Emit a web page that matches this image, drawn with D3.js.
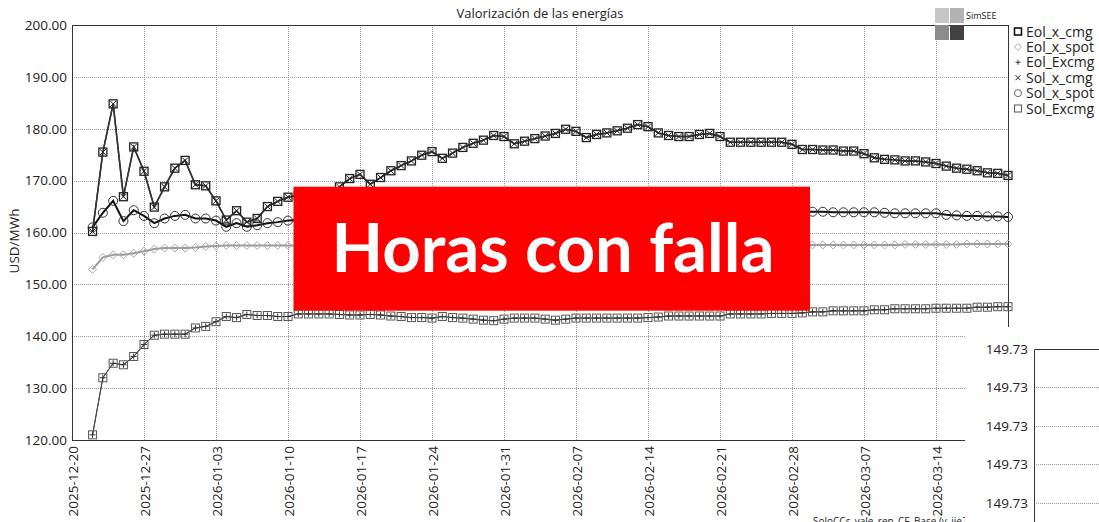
<!DOCTYPE html>
<html>
<head>
<meta charset="utf-8">
<script src="https://cdn.jsdelivr.net/npm/d3@7"></script>
<style>
  body { margin: 0; background: #fff; }
  svg { display: block; }
  text { font-family: "Open Sans", sans-serif; fill: #222; }
</style>
</head>
<body>
<div id="chart"></div>
<script>
// ---- data ----
const firstDay = '2025-12-22'; // one point per day
const xTickLabels = ['2025-12-20', '2025-12-27', '2026-01-03', '2026-01-10', '2026-01-17',
  '2026-01-24', '2026-01-31', '2026-02-07', '2026-02-14', '2026-02-21', '2026-02-28',
  '2026-03-07', '2026-03-14'];
const yTickLabels = [120, 130, 140, 150, 160, 170, 180, 190, 200];
const insetTickLabels = ['149.73', '149.73', '149.73', '149.73', '149.73'];

const seriesNames = ['Eol_x_cmg', 'Eol_x_spot', 'Eol_Excmg', 'Sol_x_cmg', 'Sol_x_spot', 'Sol_Excmg'];

const eolXCmg = [
  160.2, 175.5, 184.8, 166.9, 176.5, 171.8, 164.9, 168.8, 172.4, 173.9,
  169.2, 169.0, 166.1, 162.4, 164.2, 162.0, 162.7, 165.0, 166.0, 166.8,
  167.2, 166.9, 167.4, 167.8, 168.8, 170.4, 171.2, 169.3, 170.6, 171.9,
  172.9, 173.8, 174.9, 175.6, 174.3, 175.3, 176.4, 177.2, 177.8, 178.7,
  178.5, 177.1, 177.6, 178.1, 178.6, 179.1, 179.9, 179.5, 178.3, 178.9,
  179.2, 179.6, 180.1, 180.8, 180.4, 179.2, 178.7, 178.5, 178.5, 178.9,
  179.1, 178.5, 177.4, 177.4, 177.4, 177.4, 177.4, 177.4, 177.0, 176.0,
  176.0, 175.9, 175.9, 175.7, 175.7, 175.2, 174.4, 174.1, 174.0, 173.8,
  173.8, 173.6, 173.3, 172.8, 172.4, 172.2, 171.9, 171.5, 171.4, 171.0];
const solXCmg = eolXCmg; // both curves lie on top of each other

const solXSpot = [
  161.0, 163.8, 166.1, 162.2, 164.3, 163.2, 161.8, 162.7, 163.2, 163.4,
  162.7, 162.7, 162.3, 161.1, 161.8, 161.1, 161.4, 161.8, 162.0, 162.3,
  162.4, 162.5, 162.5, 162.6, 162.7, 162.9, 163.0, 162.9, 163.0, 163.1,
  163.2, 163.3, 163.4, 163.5, 163.4, 163.5, 163.6, 163.7, 163.8, 163.9,
  163.9, 163.8, 163.8, 163.9, 164.0, 164.0, 164.1, 164.1, 164.0, 164.1,
  164.1, 164.2, 164.2, 164.3, 164.3, 164.2, 164.2, 164.2, 164.2, 164.2,
  164.2, 164.2, 164.1, 164.1, 164.1, 164.1, 164.1, 164.1, 164.1, 164.0,
  164.0, 164.0, 163.9, 163.9, 163.9, 163.9, 163.9, 163.8, 163.7, 163.7,
  163.7, 163.7, 163.7, 163.4, 163.3, 163.2, 163.2, 163.1, 163.1, 163.0];

const eolXSpot = [
  152.9, 155.2, 155.7, 155.7, 156.0, 156.4, 156.8, 157.0, 157.0, 157.0,
  157.1, 157.3, 157.4, 157.5, 157.5, 157.5, 157.5, 157.5, 157.5, 157.5,
  157.5, 157.5, 157.5, 157.5, 157.5, 157.5, 157.5, 157.5, 157.5, 157.5,
  157.5, 157.5, 157.5, 157.5, 157.5, 157.5, 157.5, 157.6, 157.6, 157.6,
  157.6, 157.5, 157.5, 157.5, 157.6, 157.6, 157.6, 157.6, 157.6, 157.6,
  157.6, 157.6, 157.6, 157.6, 157.6, 157.6, 157.6, 157.6, 157.6, 157.6,
  157.6, 157.6, 157.6, 157.6, 157.6, 157.6, 157.6, 157.6, 157.6, 157.6,
  157.6, 157.6, 157.6, 157.6, 157.6, 157.6, 157.6, 157.6, 157.6, 157.7,
  157.7, 157.7, 157.7, 157.7, 157.7, 157.8, 157.8, 157.8, 157.8, 157.8];

const eolExcmg = [
  121.0, 132.0, 134.8, 134.5, 136.1, 138.4, 140.2, 140.4, 140.4, 140.4,
  141.6, 141.9, 142.8, 143.8, 143.6, 144.2, 144.0, 144.0, 143.8, 143.8,
  144.3, 144.3, 144.3, 144.3, 144.2, 144.1, 144.1, 144.2, 144.1, 143.9,
  143.8, 143.6, 143.6, 143.5, 143.8, 143.6, 143.5, 143.3, 143.1, 143.0,
  143.3, 143.5, 143.5, 143.5, 143.3, 143.1, 143.3, 143.5, 143.5, 143.5,
  143.5, 143.5, 143.5, 143.5, 143.6, 143.7, 143.9, 143.9, 143.9, 143.9,
  143.9, 143.9, 144.3, 144.3, 144.3, 144.3, 144.4, 144.4, 144.4, 144.5,
  144.7, 144.7, 144.9, 144.9, 144.9, 144.9, 145.1, 145.1, 145.3, 145.3,
  145.3, 145.3, 145.4, 145.4, 145.4, 145.4, 145.6, 145.6, 145.7, 145.7];
const solExcmg = eolExcmg; // both curves lie on top of each other

// ---- layout ----
const W = 1099, H = 522;
const plot = { left: 72, right: 1008, top: 25, bottom: 440 };

const svg = d3.select('#chart').append('svg')
  .attr('width', W).attr('height', H);

svg.append('rect').attr('width', W).attr('height', H).attr('fill', '#fff');

const parse = d3.utcParse('%Y-%m-%d');
const start = parse(firstDay);
const dayOf = (i) => d3.utcDay.offset(start, i);

const x = d3.scaleUtc()
  .domain([parse('2025-12-20'), parse('2026-03-21')])
  .range([plot.left, plot.right]);
const y = d3.scaleLinear()
  .domain([d3.min(yTickLabels), d3.max(yTickLabels)])
  .range([plot.bottom, plot.top]);

// grid
const grid = svg.append('g').attr('stroke', '#9a9a9a').attr('stroke-dasharray', '1,1');
xTickLabels.slice(1).forEach((t) => {
  const px = Math.round(x(parse(t))) + 0.5;
  grid.append('line').attr('x1', px).attr('x2', px)
    .attr('y1', plot.top).attr('y2', plot.bottom);
});
yTickLabels.slice(1, -1).forEach((v) => {
  const py = Math.round(y(v)) + 0.5;
  grid.append('line').attr('x1', plot.left).attr('x2', plot.right)
    .attr('y1', py).attr('y2', py);
});

// frame
svg.append('rect')
  .attr('x', plot.left + 0.5).attr('y', plot.top + 0.5)
  .attr('width', plot.right - plot.left).attr('height', plot.bottom - plot.top)
  .attr('fill', 'none').attr('stroke', '#333');

// y axis labels
const yAxis = svg.append('g')
  .attr('transform', `translate(${plot.left},0)`)
  .call(d3.axisLeft(y).tickValues(yTickLabels).tickFormat(d3.format('.2f')).tickSize(0).tickPadding(5));
yAxis.select('.domain').remove();
yAxis.selectAll('text').style('font-size', '13.5px').attr('fill', '#222');

svg.append('text')
  .attr('transform', 'translate(14,241) rotate(-90)')
  .attr('text-anchor', 'middle').attr('dy', '0.35em')
  .style('font-size', '13.5px')
  .text('USD/MWh');

// x axis labels (rotated)
const xAxis = svg.append('g')
  .attr('transform', `translate(0,${plot.bottom})`)
  .call(d3.axisBottom(x).tickValues(xTickLabels.map(parse))
    .tickFormat(d3.utcFormat('%Y-%m-%d')).tickSize(0));
xAxis.select('.domain').remove();
xAxis.selectAll('text')
  .attr('transform', 'rotate(-90)')
  .attr('x', -6).attr('y', 1).attr('dy', '0.35em')
  .style('text-anchor', 'end')
  .style('font-size', '13.5px').attr('fill', '#222');

// title
svg.append('text')
  .attr('x', (plot.left + plot.right) / 2).attr('y', 18)
  .attr('text-anchor', 'middle').style('font-size', '13px')
  .text('Valorización de las energías');

// ---- series ----
const styles = {
  Eol_x_cmg:  { values: eolXCmg,  marker: 'square',  color: '#222', line: '#333', lw: 1.5, mw: 1.3 },
  Eol_x_spot: { values: eolXSpot, marker: 'diamond', color: '#a8a8a8', line: '#9a9a9a', lw: 2, mw: 1 },
  Eol_Excmg:  { values: eolExcmg, marker: 'plus',    color: '#333', line: '#444', lw: 1, mw: 1 },
  Sol_x_cmg:  { values: solXCmg,  marker: 'cross',   color: '#222', line: '#333', lw: 1.5, mw: 1 },
  Sol_x_spot: { values: solXSpot, marker: 'circle',  color: '#333', line: '#111', lw: 2, mw: 1 },
  Sol_Excmg:  { values: solExcmg, marker: 'square',  color: '#555', line: '#444', lw: 1, mw: 1 },
};

function drawMarker(g, type, cx, cy, color, w, s) {
  const h = s / 2;
  if (type === 'square') {
    g.append('rect').attr('x', cx - h).attr('y', cy - h).attr('width', s).attr('height', s)
      .attr('fill', 'none').attr('stroke', color).attr('stroke-width', w);
  } else if (type === 'diamond') {
    g.append('path')
      .attr('d', `M${cx},${cy - h}L${cx + h},${cy}L${cx},${cy + h}L${cx - h},${cy}Z`)
      .attr('fill', 'none').attr('stroke', color).attr('stroke-width', w);
  } else if (type === 'plus') {
    g.append('path')
      .attr('d', `M${cx - h + 1},${cy}H${cx + h - 1}M${cx},${cy - h + 1}V${cy + h - 1}`)
      .attr('stroke', color).attr('stroke-width', w);
  } else if (type === 'cross') {
    g.append('path')
      .attr('d', `M${cx - h + 1},${cy - h + 1}L${cx + h - 1},${cy + h - 1}M${cx - h + 1},${cy + h - 1}L${cx + h - 1},${cy - h + 1}`)
      .attr('stroke', color).attr('stroke-width', w);
  } else if (type === 'circle') {
    g.append('circle').attr('cx', cx).attr('cy', cy).attr('r', h)
      .attr('fill', 'none').attr('stroke', color).attr('stroke-width', w);
  }
}

const line = d3.line().x((d, i) => x(dayOf(i))).y((d) => y(d));
const order = ['Eol_x_spot', 'Sol_Excmg', 'Eol_Excmg', 'Sol_x_spot', 'Eol_x_cmg', 'Sol_x_cmg'];
const seriesG = svg.append('g');
order.forEach((name) => {
  const st = styles[name];
  seriesG.append('path').datum(st.values)
    .attr('d', line).attr('fill', 'none')
    .attr('stroke', st.line).attr('stroke-width', st.lw);
});
order.forEach((name) => {
  const st = styles[name];
  const g = seriesG.append('g');
  const size = st.marker === 'circle' ? 9 : 8;
  st.values.forEach((v, i) => drawMarker(g, st.marker, x(dayOf(i)), y(v), st.color, st.mw, size));
});

// legend
const legend = svg.append('g');
seriesNames.forEach((name, i) => {
  const cy = 31.5 + i * 15.4;
  const st = styles[name];
  const mcolor = name === 'Eol_x_cmg' ? '#111' : (name === 'Sol_x_spot' ? '#666' : st.color);
  drawMarker(legend, st.marker, 1018, cy, mcolor, name === 'Eol_x_cmg' ? 1.6 : 1, 7);
  legend.append('text').attr('x', 1026).attr('y', cy + 5)
    .style('font-size', '14px').text(name);
});

// SimSEE badge
const badge = svg.append('g');
[['#c6c6c6', 935, 8], ['#b3b3b3', 950, 8], ['#8c8c8c', 935, 25], ['#424242', 950, 25]]
  .forEach(([c, bx, by]) => badge.append('rect')
    .attr('x', bx).attr('y', by).attr('width', 14).attr('height', 15).attr('fill', c));
badge.append('text').attr('x', 966).attr('y', 19).style('font-size', '9px').text('SimSEE');

// footer
svg.append('text').attr('x', 813).attr('y', 525).style('font-size', '10px')
  .text('SoloCCs_vale_ren_CF_Base (v_iie23)');

// red banner
svg.append('rect').attr('x', 293.5).attr('y', 186.7).attr('width', 516.5).attr('height', 124)
  .attr('fill', '#ff0000');
svg.append('text').attr('x', 553).attr('y', 271.5).attr('text-anchor', 'middle')
  .style('font-family', 'Lato, sans-serif').style('font-weight', 700).style('font-size', '67px')
  .style('fill', '#fff').text('Horas con falla');

// inset panel (overlapping window in the bottom right)
const inset = svg.append('g');
inset.append('rect').attr('x', 965).attr('y', 327).attr('width', W - 965).attr('height', H - 327)
  .attr('fill', '#fff');
const yi = d3.scalePoint().domain(d3.range(insetTickLabels.length)).range([349, 502.7]);
insetTickLabels.forEach((t, i) => {
  const py = Math.round(yi(i)) + 0.5;
  if (i > 0) {
    inset.append('line').attr('x1', 1034).attr('x2', W).attr('y1', py).attr('y2', py)
      .attr('stroke', '#9a9a9a').attr('stroke-dasharray', '1,1');
  }
  inset.append('text').attr('x', 1028).attr('y', py).attr('dy', '0.35em')
    .attr('text-anchor', 'end').style('font-size', '13.5px').text(t);
});
inset.append('path').attr('d', `M1034.5,${H}V349.5H${W}`)
  .attr('fill', 'none').attr('stroke', '#333');
</script>
</body>
</html>
